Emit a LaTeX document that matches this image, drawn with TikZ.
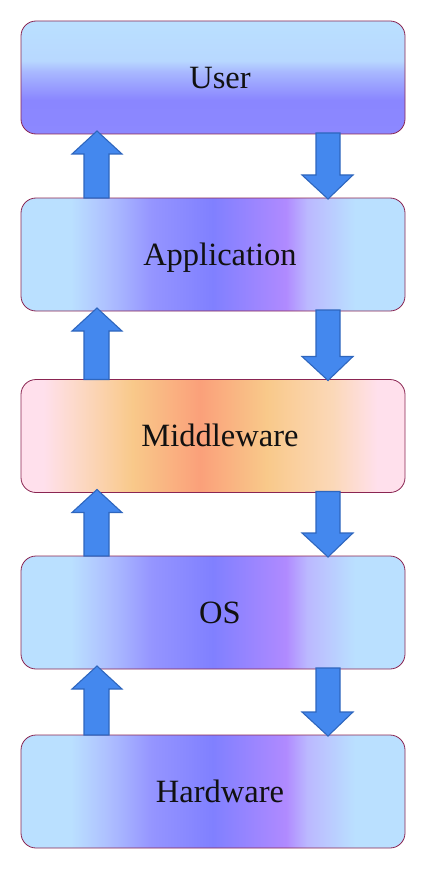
\documentclass[tikz,border=0pt]{standalone}
\usepackage{fontspec}
\setmainfont{Liberation Serif}
\usetikzlibrary{calc}
\definecolor{lb}{HTML}{BAE0FF}
\definecolor{hA}{HTML}{ADBEFF}
\definecolor{hB}{HTML}{9595FF}
\definecolor{hC}{HTML}{8080FF}
\definecolor{hD}{HTML}{B08AFF}
\definecolor{hE}{HTML}{BBB8FF}
\definecolor{pk}{HTML}{FFE0EC}
\definecolor{mA}{HTML}{FCD8C4}
\definecolor{mB}{HTML}{F9C98A}
\definecolor{mC}{HTML}{FAA07A}
\definecolor{mD}{HTML}{FBD8B8}
\definecolor{vA}{HTML}{8C88FF}
\definecolor{vB}{HTML}{8A86FF}
\definecolor{vC}{HTML}{A8B8FF}
\definecolor{vD}{HTML}{B8D8FF}
\definecolor{edgecol}{HTML}{8A2552}
\definecolor{arrfill}{HTML}{4488EE}
\definecolor{arrdraw}{HTML}{2E66BE}
\definecolor{txt}{HTML}{111111}
\pgfdeclarehorizontalshading{layershade}{100bp}{%
  color(0bp)=(lb); color(25bp)=(lb); color(31.5bp)=(lb);
  color(36.5bp)=(hA); color(42bp)=(hB); color(50bp)=(hC);
  color(59.5bp)=(hD); color(62.25bp)=(hE); color(68.5bp)=(lb);
  color(75bp)=(lb); color(100bp)=(lb)}
\pgfdeclarehorizontalshading{midshade}{100bp}{%
  color(0bp)=(pk); color(25bp)=(pk); color(27.9bp)=(pk);
  color(32.7bp)=(mA); color(39.5bp)=(mB); color(48.3bp)=(mC);
  color(57bp)=(mB); color(65.6bp)=(mD); color(71.4bp)=(pk);
  color(75bp)=(pk); color(100bp)=(pk)}
\pgfdeclareverticalshading{usershade}{100bp}{%
  color(0bp)=(vA); color(25bp)=(vA); color(40bp)=(vB);
  color(52.5bp)=(vC); color(57.5bp)=(vD); color(75bp)=(lb);
  color(100bp)=(lb)}
\tikzset{
  layer/.style={rectangle, rounded corners=15pt, draw=edgecol, line width=0.8pt,
    minimum width=384pt, minimum height=113pt, outer sep=0pt, inner sep=0pt,
    text height=21.5pt, text depth=0pt,
    font=\fontsize{32.5}{36}\selectfont, text=txt},
  blockarrow/.style={fill=arrfill, draw=arrdraw, line width=1.1pt, line join=miter},
}
\newcommand{\lbl}[1]{\hspace*{14pt}#1}
\newcommand{\uparr}[2]{%
  \draw[blockarrow]
    ($(#1.north west)+(63,0)$) -- ($(#2.south west)+(63,20)$)
    -- ($(#2.south west)+(51,20)$) -- ($(#2.south west)+(76,-3)$)
    -- ($(#2.south west)+(101,20)$) -- ($(#2.south west)+(88,20)$)
    -- ($(#1.north west)+(88,0)$) -- cycle;}
\newcommand{\downarr}[2]{%
  \draw[blockarrow]
    ($(#1.south west)+(295,-1)$) -- ($(#2.north west)+(295,-23)$)
    -- ($(#2.north west)+(281,-23)$) -- ($(#2.north west)+(307,1)$)
    -- ($(#2.north west)+(332,-23)$) -- ($(#2.north west)+(319,-23)$)
    -- ($(#1.south west)+(319,-1)$) -- cycle;}
\begin{document}
\begin{tikzpicture}[x=1pt, y=-1pt]
  \useasboundingbox (0,0) rectangle (426,869);
  \node[layer, shading=usershade] (user) at (213,77.5) {\lbl{User}};
  \node[layer, shading=layershade] (app) at (213,254.5) {\lbl{Application}};
  \node[layer, shading=midshade] (mid) at (213,436) {\lbl{Middleware}};
  \node[layer, shading=layershade] (os) at (213,612.5) {\lbl{OS}};
  \node[layer, shading=layershade] (hw) at (213,791.5) {\lbl{Hardware}};
  \uparr{app}{user}
  \downarr{user}{app}
  \uparr{mid}{app}
  \downarr{app}{mid}
  \uparr{os}{mid}
  \downarr{mid}{os}
  \uparr{hw}{os}
  \downarr{os}{hw}
\end{tikzpicture}
\end{document}
